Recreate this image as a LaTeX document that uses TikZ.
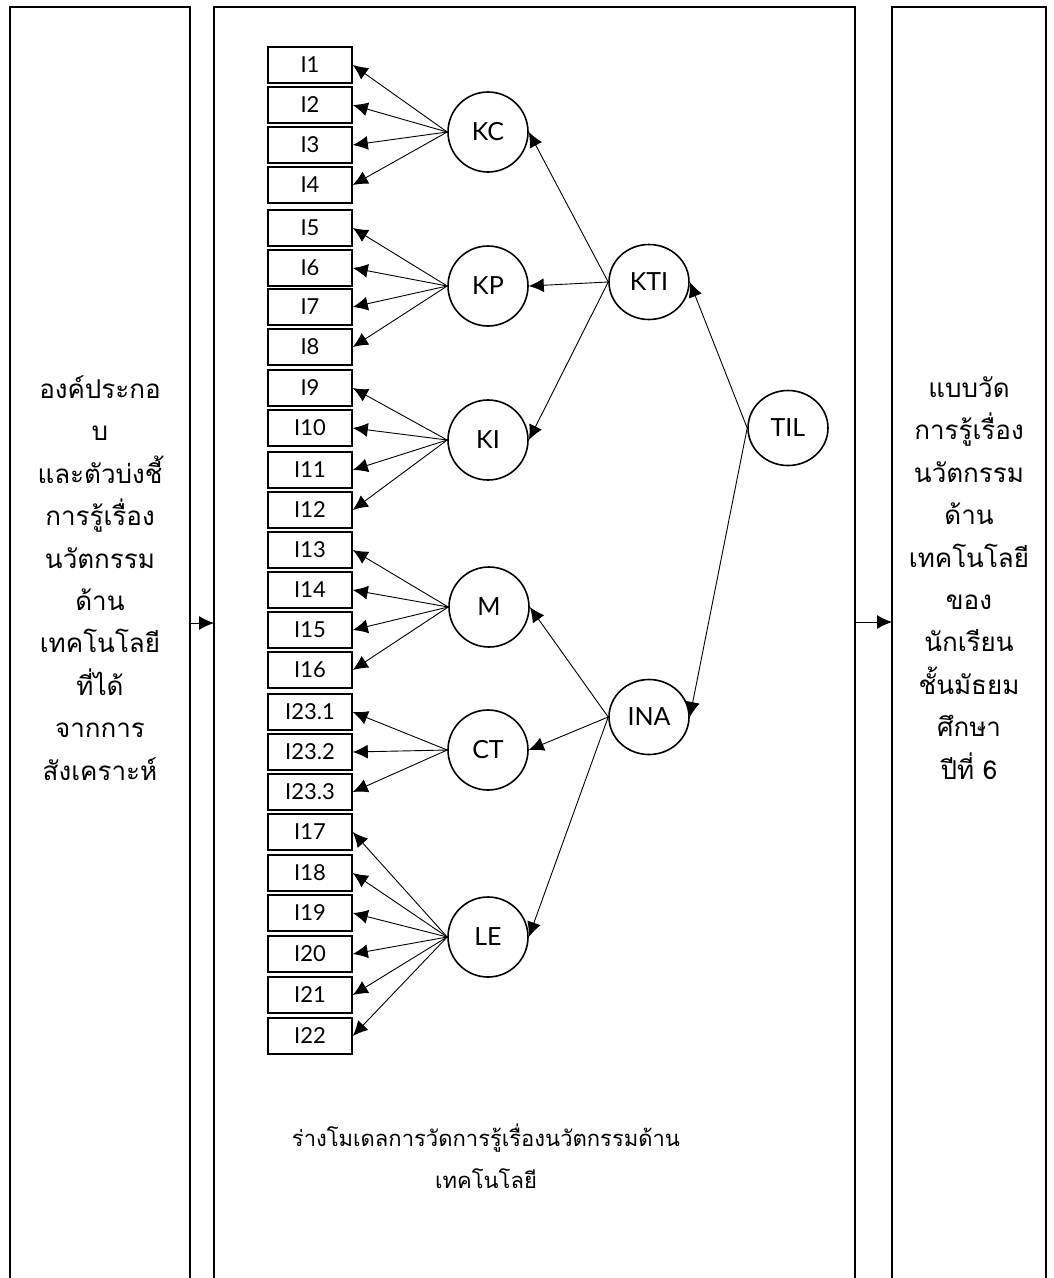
\documentclass[tikz,border=0pt]{standalone}
\usepackage{fontspec}
\setmainfont[Script=Thai]{Loma}
\newfontfamily\labfont{Lato}
\usetikzlibrary{arrows.meta,shapes.geometric}
\begin{document}
\begin{tikzpicture}[x=1pt,y=-1pt,
  panel/.style={line width=1.8pt},
  item/.style={draw, line width=1.6pt, minimum width=84pt, minimum height=36pt, inner sep=0pt, font=\labfont\fontsize{22}{22}\selectfont},
  lat/.style={draw, circle, line width=1.6pt, minimum size=80pt, inner sep=0pt, font=\labfont\fontsize{25}{25}\selectfont},
  latE/.style={draw, ellipse, line width=1.6pt, minimum width=80pt, minimum height=75pt, inner sep=0pt, font=\labfont\fontsize{25}{25}\selectfont},
  arr/.style={-{Latex[length=15pt,width=14pt]}, line width=0.9pt},
  thai/.style={align=center, font=\fontsize{26}{42.4}\selectfont},
  capt/.style={align=center, font=\fontsize{22}{42.4}\selectfont}
]
\useasboundingbox (0,0) rectangle (1054,1278);
% panels
\draw[panel] (10,1280) -- (10,7) -- (190,7) -- (190,1280);
\draw[panel] (214,1280) -- (214,7) -- (855,7) -- (855,1280);
\draw[panel] (892,1280) -- (892,7) -- (1046,7) -- (1046,1280);
\coordinate (Lr) at (190,623);
\coordinate (Ml) at (214,623);
\coordinate (Mr) at (855,622);
\coordinate (Rl) at (892,622);
\draw[arr] (Lr) -- (Ml);
\draw[arr] (Mr) -- (Rl);
% panel texts
\node[thai] (lefttext) at (100,578) {องค์ประกอ\\บ\\และตัวบ่งชี้\\การรู้เรื่อง\\นวัตกรรม\\ด้าน\\เทคโนโลยี\\ที่ได้\\จากการ\\สังเคราะห์};
\node[thai] (righttext) at (969,578) {แบบวัด\\การรู้เรื่อง\\นวัตกรรม\\ด้าน\\เทคโนโลยี\\ของ\\นักเรียน\\ชั้นมัธยม\\ศึกษา\\ปีที่ 6};
\node[capt] (caption) at (486,1156) {ร่างโมเดลการวัดการรู้เรื่องนวัตกรรมด้าน\\เทคโนโลยี};
% items
\foreach \n/\t/\y in {i1/I1/47, i2/I2/87, i3/I3/127, i4/I4/167, i5/I5/210, i6/I6/250, i7/I7/289, i8/I8/329,
  i9/I9/370, i10/I10/410, i11/I11/452, i12/I12/492, i13/I13/532, i14/I14/572, i15/I15/612, i16/I16/652,
  i231/I23.1/694, i232/I23.2/734, i233/I23.3/774, i17/I17/814, i18/I18/855, i19/I19/895, i20/I20/936, i21/I21/977, i22/I22/1018}
  \node[item] (\n) at (310,\y+18) {\t};
% first order factors
\node[lat] (KC) at (488,132) {KC};
\node[lat] (KP) at (488,286) {KP};
\node[lat] (KI) at (488,440) {KI};
\node[lat] (M) at (489,607) {M};
\node[lat] (CT) at (488,750) {CT};
\node[lat] (LE) at (488,937) {LE};
% second order
\node[latE] (KTI) at (649,282) {KTI};
\node[latE] (INA) at (649,717) {INA};
\node[latE] (TIL) at (788,428) {TIL};
% loadings
\foreach \f/\list in {KC/{i1,i2,i3,i4}, KP/{i5,i6,i7,i8}, KI/{i9,i10,i11,i12}, M/{i13,i14,i15,i16}, CT/{i231,i232,i233}, LE/{i17,i18,i19,i20,i21,i22}}
  \foreach \i in \list
    \draw[arr] (\f.west) -- (\i.east);
\draw[arr] (KTI.west) -- (KC.east);
\draw[arr] (KTI.west) -- (KP.east);
\draw[arr] (KTI.west) -- (KI.east);
\draw[arr] (INA.west) -- (M.east);
\draw[arr] (INA.west) -- (CT.east);
\draw[arr] (INA.west) -- (LE.east);
\draw[arr] (TIL.west) -- (KTI.east);
\draw[arr] (TIL.west) -- (INA.east);
\end{tikzpicture}
\end{document}
